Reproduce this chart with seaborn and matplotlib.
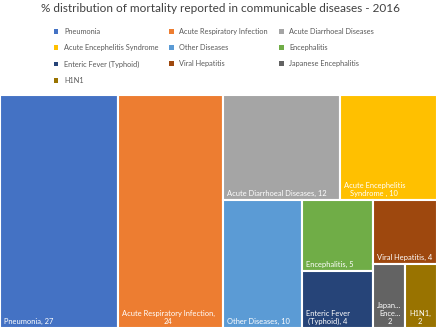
import matplotlib
matplotlib.use("Agg")
import matplotlib.pyplot as plt
import seaborn as sns
from matplotlib.patches import Rectangle, Patch

# ---- data ----
categories = ["Pneumonia", "Acute Respiratory Infection", "Acute Diarrhoeal Diseases",
              "Acute Encephelitis Syndrome", "Other Diseases", "Encephalitis",
              "Enteric Fever (Typhoid)", "Viral Hepatitis", "Japanese Encephalitis", "H1N1"]
values = [27, 24, 12, 10, 10, 5, 4, 4, 2, 2]
tile_labels = ["Pneumonia, 27", "Acute Respiratory Infection,\n24", "Acute Diarrhoeal Diseases, 12",
               "Acute Encephelitis\nSyndrome , 10", "Other Diseases, 10", "Encephalitis, 5",
               "Enteric Fever\n(Typhoid), 4", "Viral Hepatitis, 4", "Japan...\nEnce...\n2", "H1N1,\n2"]
colors = ["#4472C4", "#ED7D31", "#A5A5A5", "#FFC000", "#5B9BD5", "#70AD47",
          "#264478", "#9E480E", "#636363", "#997300"]
title = "% distribution of mortality reported in communicable diseases - 2016"

sns.set_theme(style="white")
plt.rcParams["font.family"] = ["Lato", "DejaVu Sans"]

CANVAS_W, CANVAS_H = 200.0, 100.0


def worst(row, side):
    s = sum(row)
    return max(max(side * side * r / (s * s), s * s / (side * side * r)) for r in row)


def squarify(vals, x, y, dx, dy):
    rects = []
    vals = list(vals)
    while vals:
        side = min(dx, dy)
        row = [vals[0]]
        i = 1
        while i < len(vals) and worst(row + [vals[i]], side) <= worst(row, side):
            row.append(vals[i])
            i += 1
        vals = vals[i:]
        s = sum(row)
        if dx >= dy:
            w = s / dy
            yy = y + dy
            for r in row:
                h = r / w
                yy -= h
                rects.append((x, yy, w, h))
            x += w
            dx -= w
        else:
            h = s / dx
            xx = x
            for r in row:
                w = r / h
                rects.append((xx, y + dy - h, w, h))
                xx += w
            dy -= h
    return rects


total = float(sum(values))
areas = [v / total * CANVAS_W * CANVAS_H for v in values]
rects = squarify(areas, 0.0, 0.0, CANVAS_W, CANVAS_H)

fig = plt.figure(figsize=(4.4, 3.29), dpi=100)
fig.patch.set_facecolor("white")
ax = fig.add_axes([0.0, 0.003, 0.993, 0.708])
ax.set_xlim(0, CANVAS_W)
ax.set_ylim(0, CANVAS_H)
ax.axis("off")

for (x, y, w, h), c, lab in zip(rects, colors, tile_labels):
    ax.add_patch(Rectangle((x, y), w, h, facecolor=c, edgecolor="white", linewidth=1.5))
    ax.text(x + 1.8, y + 1.2, lab, ha="left", va="bottom", multialignment="center",
            color="white", fontsize=5.4)

fig.text(0.5, 1 - 8.5 / 329, title, ha="center", va="center", fontsize=8.5, color="#404040")

handles = [Patch(facecolor=c, edgecolor="none", label=n) for n, c in zip(categories, colors)]
order = [0, 3, 6, 9, 1, 4, 7, 2, 5, 8]
fig.legend([handles[i] for i in order], [categories[i] for i in order], ncol=3,
           loc="upper left", bbox_to_anchor=(54 / 440, 1 - 28 / 329), frameon=False,
           fontsize=5.3, handlelength=0.6, handleheight=0.6, handletextpad=0.75,
           labelspacing=1.25, columnspacing=1.5, borderpad=0, borderaxespad=0,
           labelcolor="#595959")

fig.savefig("out.png", dpi=100)
